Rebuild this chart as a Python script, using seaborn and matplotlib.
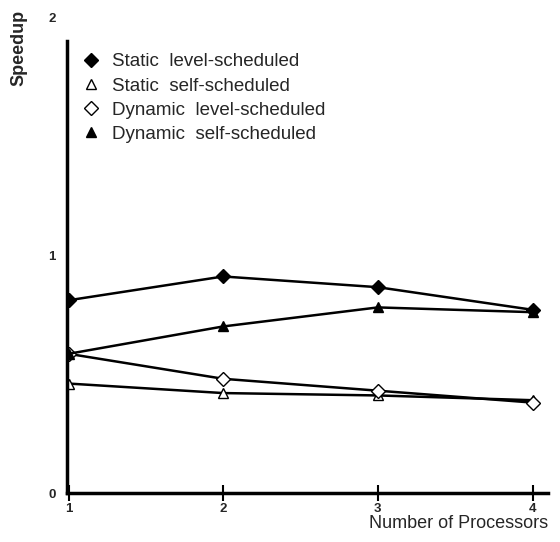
import numpy as np
import pandas as pd
import matplotlib
matplotlib.use('Agg')
import matplotlib.pyplot as plt
import seaborn as sns

processors = [1, 2, 3, 4]
static_level = [0.81, 0.91, 0.865, 0.77]
static_self = [0.46, 0.42, 0.41, 0.39]
dynamic_level = [0.585, 0.48, 0.43, 0.38]
dynamic_self = [0.585, 0.70, 0.78, 0.76]

series = [
    ('Static  level-scheduled', static_level, 'D', 'black'),
    ('Static  self-scheduled', static_self, '^', 'white'),
    ('Dynamic  level-scheduled', dynamic_level, 'D', 'white'),
    ('Dynamic  self-scheduled', dynamic_self, '^', 'black'),
]

sns.set_style('white')
plt.rcParams['font.family'] = ['Liberation Sans', 'DejaVu Sans']

fig = plt.figure(figsize=(5.6, 5.42), dpi=100)
ax = fig.add_axes([0.1196, 0.0904, 0.859, 0.878])

for name, vals, mk, fc in series:
    sns.lineplot(x=processors, y=vals, ax=ax, color='black', linewidth=1.8,
                 marker=mk, markersize=7, markerfacecolor=fc,
                 markeredgecolor='black', markeredgewidth=1.0, label=name)

ax.set_xlim(0.99, 4.1)
ax.set_ylim(0, 2.0)
ax.set_xticks([1, 2, 3, 4])
ax.set_yticks([0, 1, 2])
ax.set_xticklabels(['1', '2', '3', '4'], fontsize=9.5, fontweight='bold')
ax.set_yticklabels(['0', '1', '2'], fontsize=9.5, fontweight='bold')
ax.tick_params(axis='x', bottom=True, direction='inout', length=12, width=1.5,
               pad=1, color='black')
ax.tick_params(axis='y', left=False, length=0, pad=8)

for s in ['top', 'right']:
    ax.spines[s].set_visible(False)
ax.spines['left'].set_linewidth(2.5)
ax.spines['bottom'].set_linewidth(2.5)
ax.spines['left'].set_color('black')
ax.spines['bottom'].set_color('black')
ax.spines['left'].set_bounds(0, 1.9)

ax.set_xlabel('')
ax.set_ylabel('')
fig.text(0.979, 0.018, 'Number of Processors', ha='right', va='bottom', fontsize=13)
fig.text(0.033, 0.911, 'Speedup', rotation=90, ha='center', va='center',
         fontsize=13, fontweight='bold')

ax.legend(loc='upper left', bbox_to_anchor=(0.035, 0.94), frameon=False,
          handlelength=0, handletextpad=1.1, labelspacing=0.38, fontsize=13.5,
          borderaxespad=0)

fig.savefig('out.png', dpi=100)
